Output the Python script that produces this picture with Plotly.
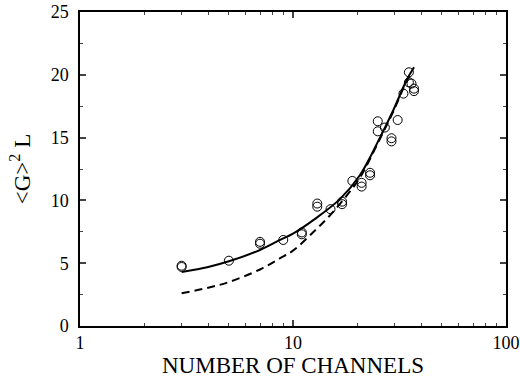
import plotly.graph_objects as go

# measured data points
chan_x = [3, 3, 5, 7, 7, 9, 11, 11, 13, 13, 15, 17, 17, 19, 21, 21, 23, 23,
          25, 25, 27, 29, 29, 31, 33, 35, 35, 36, 37, 37]
g2l_y = [4.7, 4.8, 5.2, 6.55, 6.7, 6.85, 7.3, 7.45, 9.5, 9.75, 9.3, 9.7, 9.9,
         11.55, 11.1, 11.4, 12.0, 12.2, 15.5, 16.3, 15.8, 14.7, 14.95, 16.4,
         18.5, 19.4, 20.2, 19.3, 18.9, 18.7]

# solid theory curve
solid_x = [3, 4, 5, 7, 8.7, 10, 12.5, 16.6, 20.6, 25.6, 29.6, 34.2, 37]
solid_y = [4.3, 4.7, 5.15, 6.05, 6.85, 7.35, 8.45, 10.1, 12.0, 15.0, 17.2, 19.6, 20.6]

# dashed theory curve
dash_x = [3, 4, 5, 7, 8.7, 10, 12.5, 14.9, 17.9, 20.6, 25.6, 29.6, 34.2, 36.5]
dash_y = [2.6, 3.05, 3.5, 4.5, 5.4, 6.0, 7.5, 8.8, 10.4, 11.8, 14.9, 17.1, 19.5, 20.2]

x_tickvals = [1, 10, 100]
x_ticktext = ["1", "10", "100"]

fig = go.Figure()
fig.add_trace(go.Scatter(x=dash_x, y=dash_y, mode="lines",
                         line=dict(color="black", width=2, dash="8px,5px", shape="spline"),
                         showlegend=False))
fig.add_trace(go.Scatter(x=solid_x, y=solid_y, mode="lines",
                         line=dict(color="black", width=2, shape="spline"),
                         showlegend=False))
fig.add_trace(go.Scatter(x=chan_x, y=g2l_y, mode="markers",
                         marker=dict(symbol="circle-open", size=9, color="black",
                                     line=dict(width=1, color="black")),
                         showlegend=False))

font_serif = "Liberation Serif"
tick_font = dict(family=font_serif, size=18, color="black")
title_font = dict(family=font_serif, size=23, color="black")
fig.update_layout(
    width=520, height=384,
    margin=dict(l=80, r=14, t=12, b=58),
    paper_bgcolor="white", plot_bgcolor="white",
    font=dict(family=font_serif, color="black", size=18),
    xaxis=dict(type="log", range=[0, 2], tickvals=x_tickvals, ticktext=x_ticktext,
               ticks="inside", ticklen=6, tickwidth=1.5, mirror="allticks",
               showline=True, linewidth=1.5, linecolor="black", showgrid=False,
               zeroline=False, automargin=False, ticklabeloverflow="allow",
               minor=dict(ticks="inside", ticklen=3, tickwidth=1,
                          tickvals=[2, 3, 4, 5, 6, 7, 8, 9, 20, 30, 40, 50, 60, 70, 80, 90],
                          showgrid=False),
               tickfont=tick_font,
               title=dict(text="NUMBER OF CHANNELS", font=title_font, standoff=4)),
    yaxis=dict(range=[0, 25], dtick=5, ticks="inside", ticklen=6, tickwidth=1.5,
               mirror="allticks", showline=True, linewidth=1.5, linecolor="black",
               showgrid=False, zeroline=False, automargin=False,
               ticklabeloverflow="allow", ticklabelstandoff=6,
               minor=dict(ticks="inside", ticklen=3, tickwidth=1, dtick=2.5, showgrid=False),
               tickfont=tick_font,
               title=dict(text="&lt;G&gt;<sup>2</sup> L", font=title_font, standoff=14)),
)

fig.write_html("out.html",
               config={"displayModeBar": False},
               post_script="document.body.style.margin='0';document.body.style.overflow='hidden';")
